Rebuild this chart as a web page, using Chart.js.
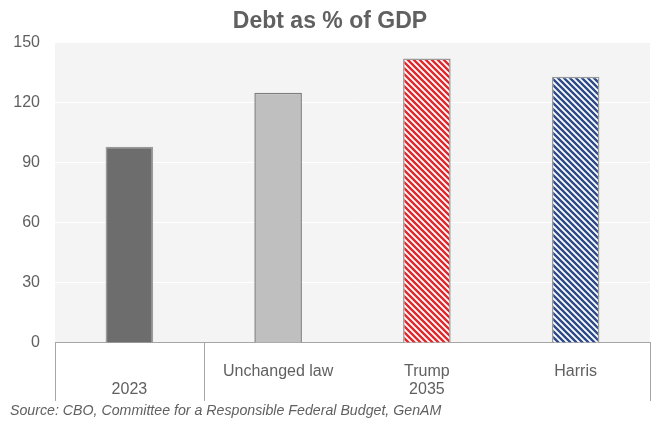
<!DOCTYPE html>
<html>
<head>
<meta charset="utf-8">
<script src="https://cdn.jsdelivr.net/npm/chart.js@4"></script>
<style>
  html, body { margin: 0; padding: 0; background: #fff; }
  #wrap { width: 656px; height: 423px; }
</style>
</head>
<body>
<div id="wrap"><canvas id="debtChart"></canvas></div>
<script>
// Debt held by the public, % of GDP
const scenarios = ['', 'Unchanged law', 'Trump', 'Harris'];
const debtPct = [98, 125, 142, 133];
const years = ['2023', '2035'];
const yearSpans = [1, 3]; // how many bars sit under each year
const yTicks = [0, 30, 60, 90, 120, 150];

const TEXT = '#606060';
const LINE = '#a6a6a6';

// diagonal stripe fill for the hatched bars
function stripes(color) {
    const s = 6;
    const c = document.createElement('canvas');
    c.width = s; c.height = s;
    const g = c.getContext('2d');
    g.fillStyle = '#fff';
    g.fillRect(0, 0, s, s);
    g.strokeStyle = color;
    g.lineWidth = 2.4;
    g.beginPath();
    g.moveTo(-1, -1); g.lineTo(s + 1, s + 1);
    g.moveTo(-2, s - 2); g.lineTo(2, s + 2);
    g.moveTo(s - 2, -2); g.lineTo(s + 2, 2);
    g.stroke();
    return g.createPattern(c, 'repeat');
}

const plotBg = {
    id: 'plotBg',
    beforeDraw(chart) {
        const { ctx, chartArea: a } = chart;
        ctx.save();
        ctx.fillStyle = '#f4f4f4';
        ctx.fillRect(a.left, a.top, a.right - a.left, a.bottom - a.top);
        ctx.restore();
    }
};

// year row under the scenario labels, with the separator lines
const yearRow = {
    id: 'yearRow',
    afterDraw(chart) {
        const { ctx, chartArea: a, scales: { x } } = chart;
        const bottom = a.bottom + 58;
        const edges = [a.left];
        let idx = 0;
        yearSpans.forEach(n => {
            idx += n;
            edges.push(idx >= scenarios.length ? a.right
                : (x.getPixelForValue(idx - 1) + x.getPixelForValue(idx)) / 2);
        });
        ctx.save();
        ctx.strokeStyle = LINE;
        ctx.lineWidth = 1;
        ctx.beginPath();
        edges.forEach(px => {
            const p = Math.round(px) + 0.5;
            ctx.moveTo(p, a.bottom);
            ctx.lineTo(p, bottom);
        });
        ctx.stroke();
        ctx.fillStyle = TEXT;
        ctx.font = '16px "Liberation Sans", Arial, sans-serif';
        ctx.textAlign = 'center';
        ctx.textBaseline = 'middle';
        years.forEach((yr, i) => {
            ctx.fillText(yr, (edges[i] + edges[i + 1]) / 2, a.bottom + 47);
        });
        ctx.restore();
    }
};

new Chart(document.getElementById('debtChart'), {
    type: 'bar',
    data: {
        labels: scenarios,
        datasets: [{
            data: debtPct,
            backgroundColor: ['#6d6d6e', '#bfbfbf', stripes('#e0282c'), stripes('#2c4a88')],
            borderColor: ['#9a9a9a', '#7f7f7f', '#9a9a9a', '#9a9a9a'],
            borderWidth: 1.5,
            categoryPercentage: 1,
            barPercentage: 0.32
        }]
    },
    options: {
        responsive: true,
        maintainAspectRatio: false,
        animation: false,
        layout: { padding: { left: 10, right: 6, top: 0, bottom: 0 } },
        plugins: {
            legend: { display: false },
            tooltip: { enabled: false },
            title: {
                display: true,
                text: 'Debt as % of GDP',
                color: TEXT,
                font: { family: '"Liberation Sans", Arial, sans-serif', size: 23, weight: 'bold' },
                padding: { top: 8, bottom: 7 }
            },
            subtitle: {
                display: true,
                position: 'bottom',
                align: 'start',
                text: 'Source: CBO, Committee for a Responsible Federal Budget, GenAM',
                color: TEXT,
                font: { family: '"Liberation Sans", Arial, sans-serif', size: 14.2, style: 'italic' },
                padding: { top: 2, bottom: 3 }
            }
        },
        scales: {
            x: {
                grid: { display: false },
                border: { display: true, color: LINE, width: 1 },
                ticks: {
                    color: TEXT,
                    font: { family: '"Liberation Sans", Arial, sans-serif', size: 16 },
                    padding: 11,
                    maxRotation: 0,
                    autoSkip: false
                },
                afterFit(scale) { scale.height = 58; }
            },
            y: {
                min: 0,
                max: 150,
                afterBuildTicks(scale) { scale.ticks = yTicks.map(v => ({ value: v })); },
                grid: { color: '#ffffff', lineWidth: 1, drawTicks: false },
                border: { display: false },
                ticks: {
                    color: TEXT,
                    font: { family: '"Liberation Sans", Arial, sans-serif', size: 16 },
                    padding: 15
                },
                afterFit(scale) { scale.width = 45; }
            }
        }
    },
    plugins: [plotBg, yearRow]
});
</script>
</body>
</html>
